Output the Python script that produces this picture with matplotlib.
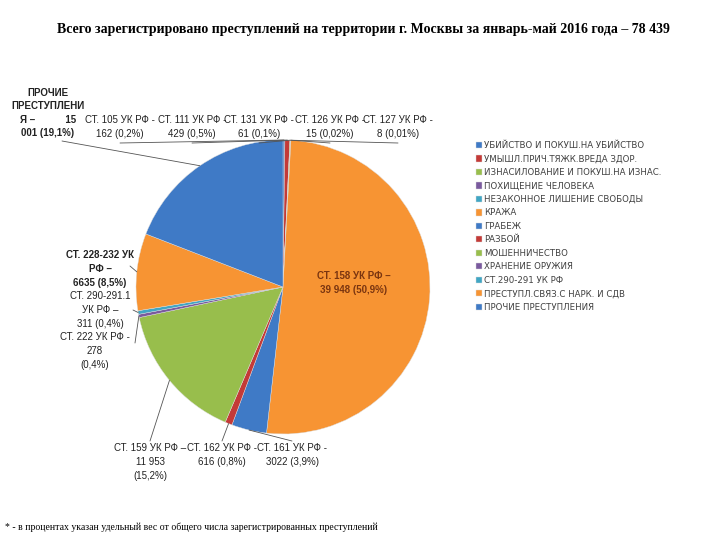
import numpy as np
import matplotlib
matplotlib.use('Agg')
import matplotlib.pyplot as plt

# данные
categories = ['УБИЙСТВО И ПОКУШ.НА УБИЙСТВО', 'УМЫШЛ.ПРИЧ.ТЯЖК.ВРЕДА ЗДОР.',
              'ИЗНАСИЛОВАНИЕ И ПОКУШ.НА ИЗНАС.', 'ПОХИЩЕНИЕ ЧЕЛОВЕКА',
              'НЕЗАКОННОЕ ЛИШЕНИЕ СВОБОДЫ', 'КРАЖА', 'ГРАБЕЖ', 'РАЗБОЙ',
              'МОШЕННИЧЕСТВО', 'ХРАНЕНИЕ ОРУЖИЯ', 'СТ.290-291 УК РФ',
              'ПРЕСТУПЛ.СВЯЗ.С НАРК. И СДВ', 'ПРОЧИЕ ПРЕСТУПЛЕНИЯ']
values = [162, 429, 61, 15, 8, 39948, 3022, 616, 11953, 278, 311, 6635, 15001]
slice_labels = ['СТ. 105 УК РФ -\n162 (0,2%)', 'СТ. 111 УК РФ -\n429 (0,5%)',
                'СТ. 131 УК РФ -\n61 (0,1%)', 'СТ. 126 УК РФ -\n15 (0,02%)',
                'СТ. 127 УК РФ -\n8 (0,01%)', 'СТ. 158 УК РФ –\n39 948 (50,9%)',
                'СТ. 161 УК РФ -\n3022 (3,9%)', 'СТ. 162 УК РФ -\n616 (0,8%)',
                'СТ. 159 УК РФ –\n11 953\n(15,2%)', 'СТ. 222 УК РФ -\n278\n(0,4%)',
                'СТ. 290-291.1\nУК РФ –\n311 (0,4%)', 'СТ. 228-232 УК\nРФ –\n6635 (8,5%)',
                'ПРОЧИЕ\nПРЕСТУПЛЕНИ\nЯ –           15\n001 (19,1%)']
title = 'Всего зарегистрировано преступлений на территории г. Москвы за январь-май 2016 года – 78 439'
note = '* - в процентах указан удельный вес от общего числа зарегистрированных преступлений'

palette = ['#3F7AC6', '#C43A37', '#98BE4C', '#7A5A9E', '#40A6C4', '#F79433']
colors = [palette[i % 6] for i in range(len(values))]

W, H = 720, 540
fig = plt.figure(figsize=(7.2, 5.4), dpi=100)

def fp(x, y):
    return (x / W, 1 - y / H)

# круг: центр (283, 287), радиус 147 пикселей
cx, cy, r = 283, 287, 147
ax = fig.add_axes([(cx - r) / W, (H - cy - r) / H, 2 * r / W, 2 * r / H])
wedges, _ = ax.pie(values, colors=colors, startangle=90, counterclock=False,
                   radius=1, wedgeprops=dict(linewidth=0.3, edgecolor='#dddddd'))
ax.set_xlim(-1, 1)
ax.set_ylim(-1, 1)
ax.axis('off')

# позиции подписей (пиксели) и начала выносок
label_pos = [(120, 127), (192, 127), (259, 127), (330, 127), (398, 127),
             (354, 283), (292, 455), (222, 455), (150, 462), (95, 351),
             (100, 310), (100, 269), (48, 113)]
line_start = [(120, 143), (192, 143), (259, 143), (330, 143), (398, 143),
              None, (292, 441), (222, 441), (150, 441), (135, 343),
              (133, 310), (130, 266), (62, 141)]
bold = [False] * 5 + [True] + [False] * 5 + [True, True]

for i, w in enumerate(wedges):
    c = slice_labels[i]
    col = '#7A3510' if i == 5 else '#222222'
    fig.text(*fp(*label_pos[i]), c, ha='center', va='center', fontsize=7,
             family='Liberation Sans', color=col, linespacing=1.45,
             weight='bold' if bold[i] else 'normal')
    if line_start[i] is not None:
        a = np.deg2rad((w.theta1 + w.theta2) / 2)
        ax.annotate('', xy=(np.cos(a), np.sin(a)), xycoords='data',
                    xytext=fp(*line_start[i]), textcoords='figure fraction',
                    arrowprops=dict(arrowstyle='-', color='#555555', lw=0.6,
                                    shrinkA=0, shrinkB=0))

fig.legend(wedges, categories, loc='upper left', bbox_to_anchor=fp(476, 141),
           frameon=False, handlelength=0.75, handleheight=0.75,
           handletextpad=0.2, labelspacing=0.52, borderaxespad=0, borderpad=0,
           labelcolor='#404040', prop={'family': 'DejaVu Sans', 'size': 6.2})

fig.text(*fp(363, 30), title, ha='center', va='center', fontsize=10,
         family='Liberation Serif', weight='bold')
fig.text(*fp(5, 527), note, ha='left', va='center', fontsize=7,
         family='Liberation Serif')

fig.savefig('out.png', dpi=100, facecolor='white')
